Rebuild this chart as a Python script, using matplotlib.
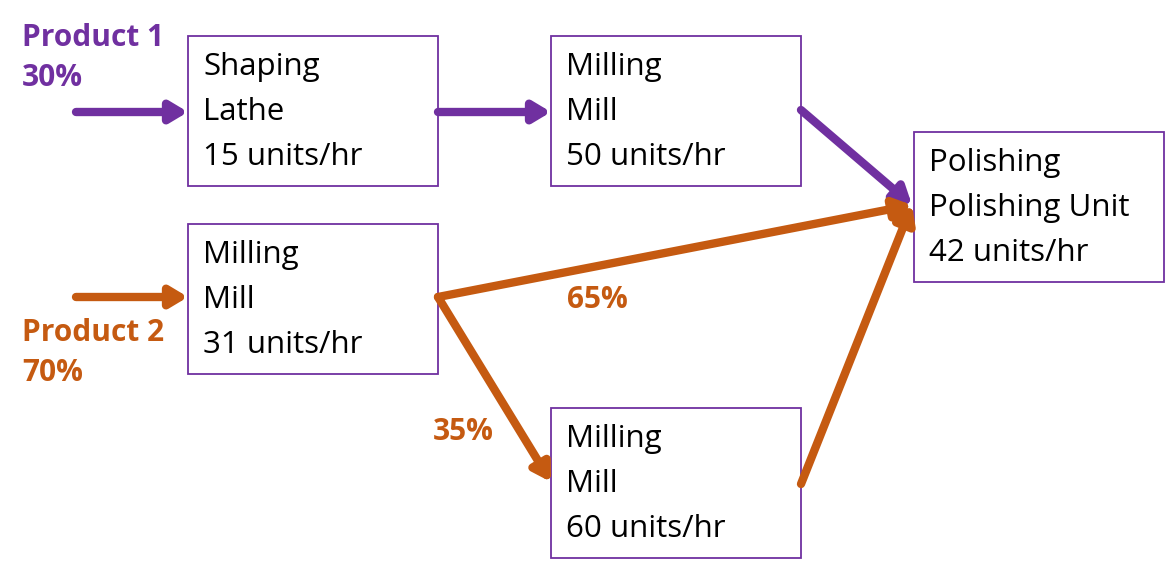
from matplotlib import pyplot as plt
from matplotlib.patches import Rectangle

purple = "#7030A0"
orange = "#C55A11"

# boxes: left, top, width, height, text lines
box_x = [188, 551, 914, 188, 551]
box_y = [36, 36, 132, 224, 408]
box_lines = [
    ["Shaping", "Lathe", "15 units/hr"],
    ["Milling", "Mill", "50 units/hr"],
    ["Polishing", "Polishing Unit", "42 units/hr"],
    ["Milling", "Mill", "31 units/hr"],
    ["Milling", "Mill", "60 units/hr"],
]

# arrows: start, end, colour
arrow_from = [(76, 112), (438, 112), (801, 110), (76, 297), (438, 297), (438, 297), (801, 484)]
arrow_to = [(188, 112), (551, 112), (912, 205), (188, 297), (912, 205), (551, 482), (912, 205)]
arrow_col = [purple, purple, purple, orange, orange, orange, orange]

# free labels
label_text = ["Product 1\n30%", "Product 2\n70%", "65%", "35%"]
label_pos = [(22, 58), (22, 353), (567, 300), (433, 432)]
label_col = [purple, orange, orange, orange]

fig = plt.figure(figsize=(11.66, 5.73), dpi=100)
ax = fig.add_axes([0, 0, 1, 1])
ax.set_xlim(0, 1166)
ax.set_ylim(573, 0)
ax.axis("off")

for x, y, lines in zip(box_x, box_y, box_lines):
    ax.add_patch(Rectangle((x, y), 250, 150, fill=False, ec=purple, lw=1.3))
    for i, t in enumerate(lines):
        ax.text(x + 15, y + 31 + 45 * i, t, fontsize=22.5, family="Open Sans",
                va="center", ha="left", color="black")

for a, b, c in zip(arrow_from, arrow_to, arrow_col):
    ax.annotate("", xy=b, xytext=a,
                arrowprops=dict(arrowstyle="-|>,head_length=1.0,head_width=0.6",
                                color=c, lw=6, shrinkA=0, shrinkB=0))

for t, p, c in zip(label_text, label_pos, label_col):
    ax.text(p[0], p[1], t, fontsize=21.5, fontweight="bold", family="Open Sans",
            color=c, va="center", ha="left", linespacing=1.4)

plt.savefig("out.png", dpi=100)
